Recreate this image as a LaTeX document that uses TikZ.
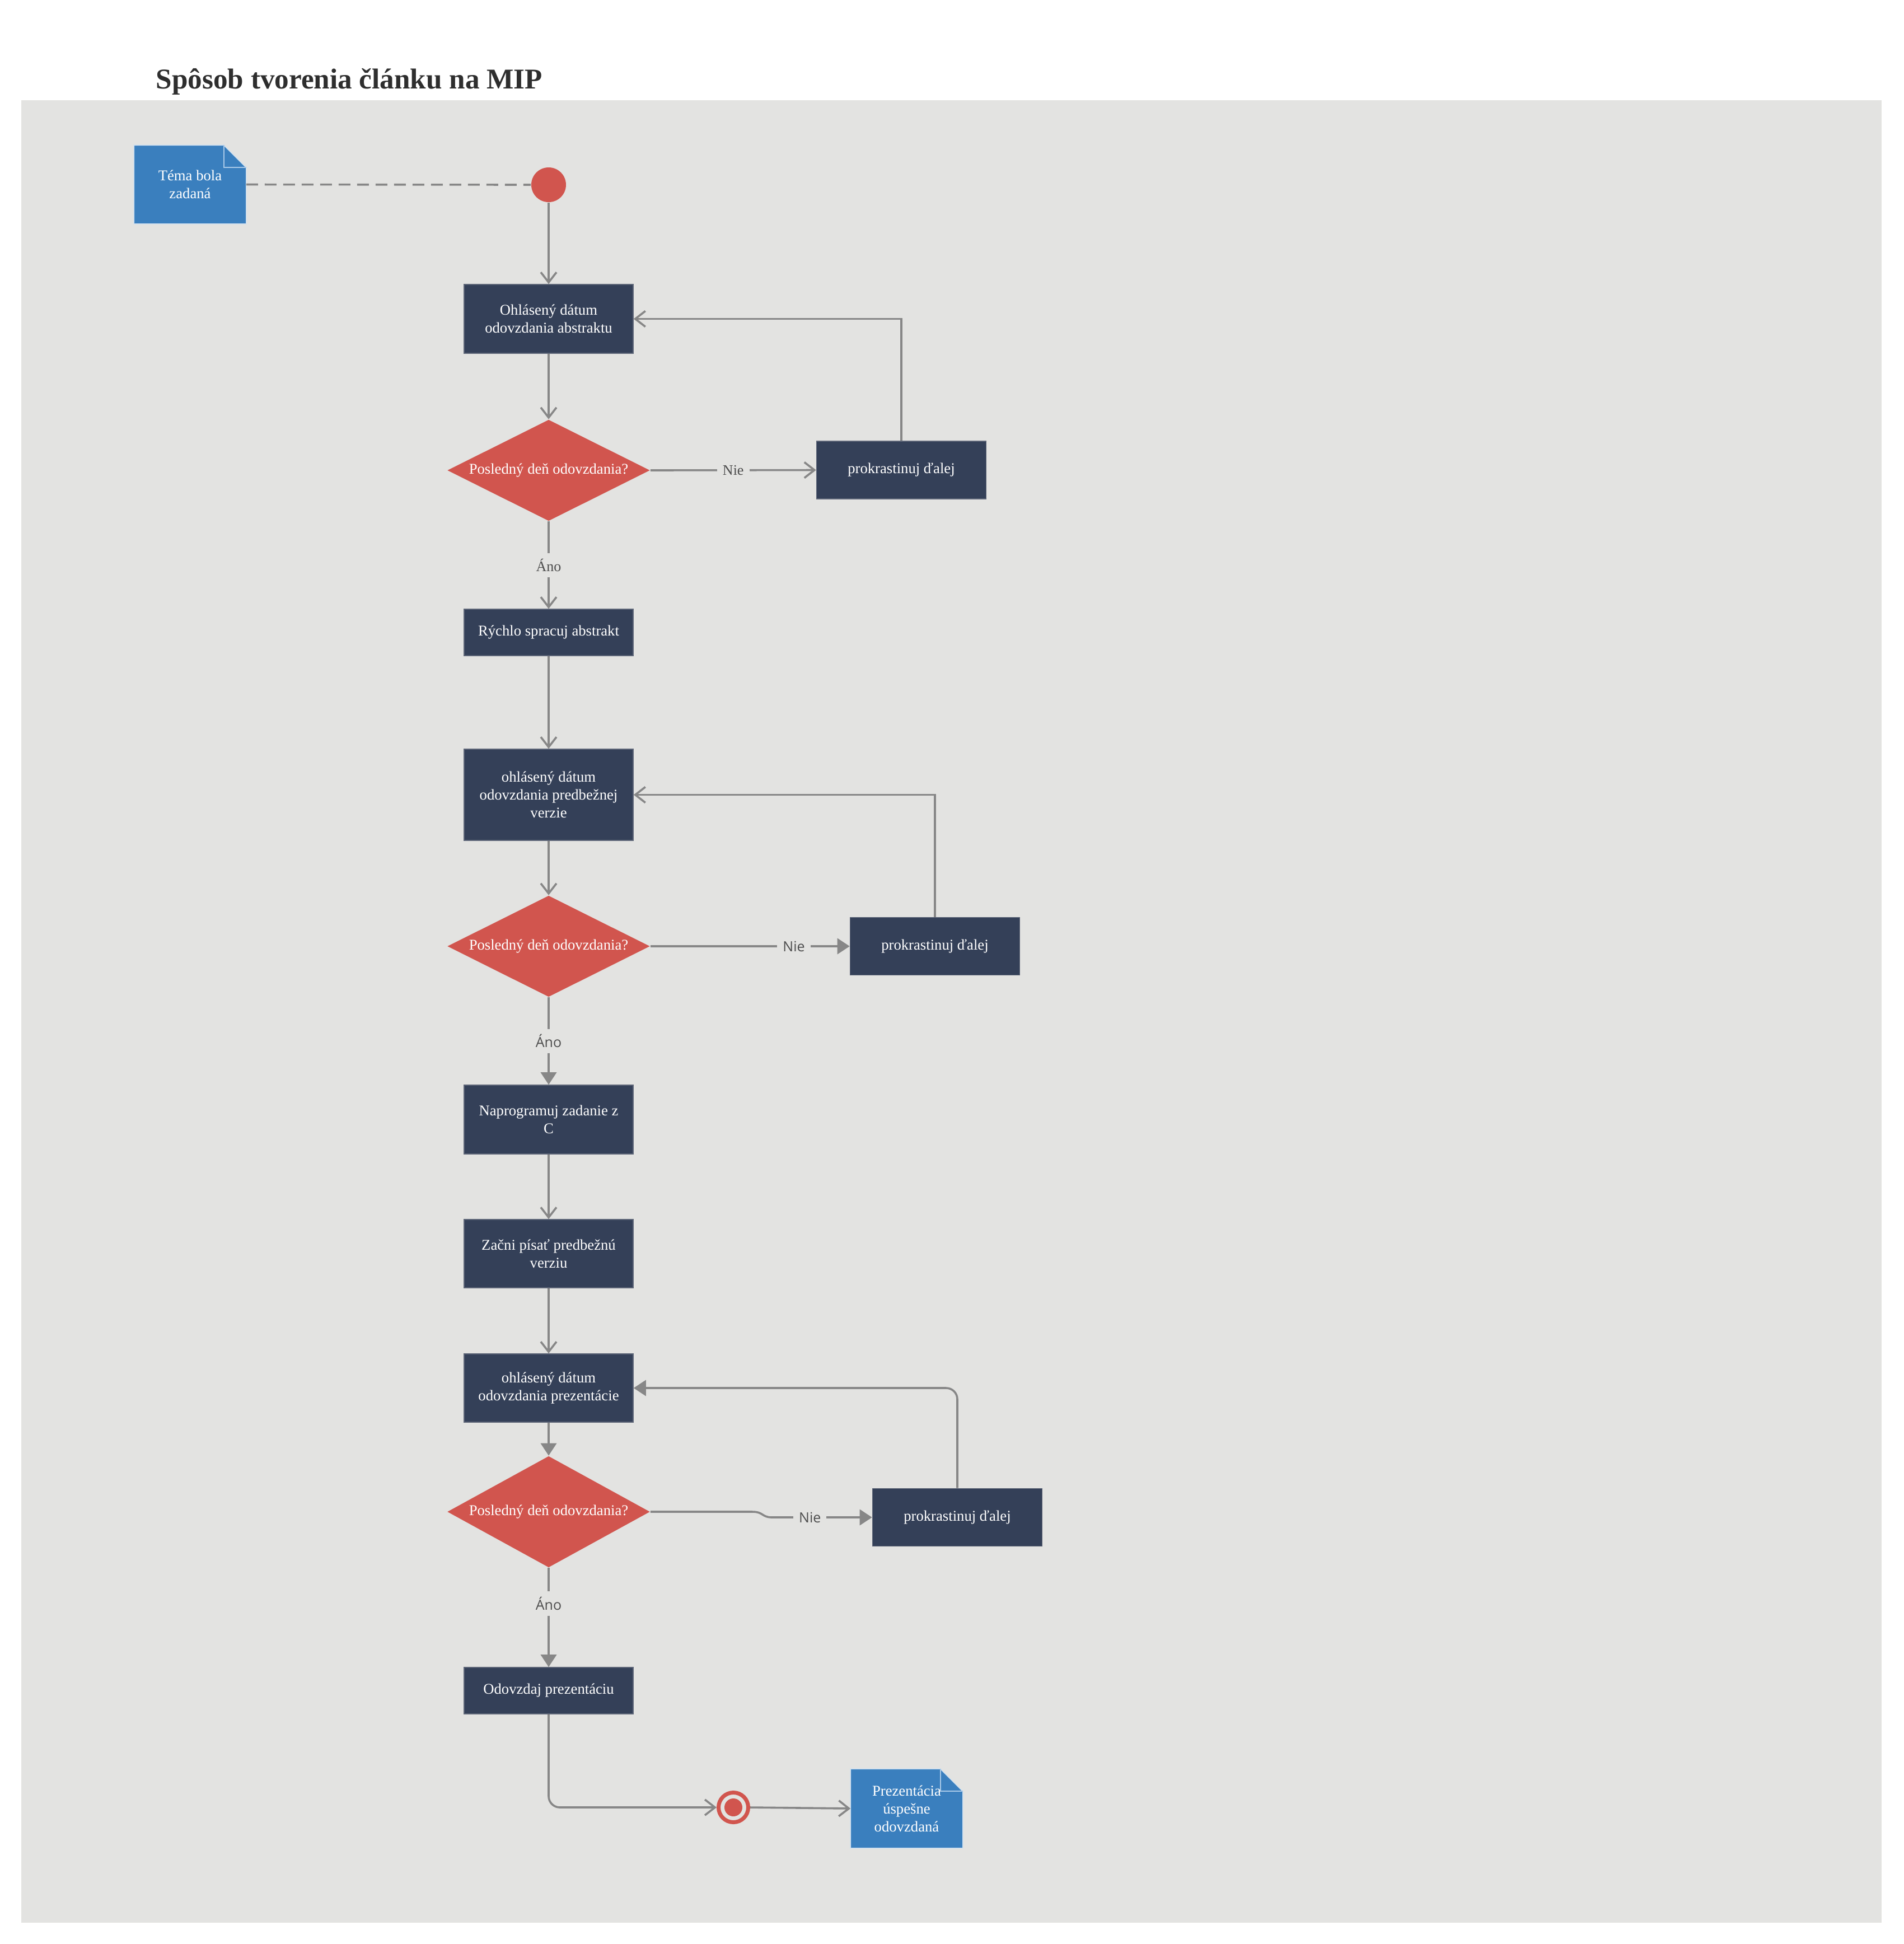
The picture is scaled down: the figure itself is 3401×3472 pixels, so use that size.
\documentclass[tikz,border=0pt]{standalone}
\usepackage{fontspec}
\setmainfont{Liberation Serif}
\newfontfamily\labsans{Open Sans}
\usetikzlibrary{arrows.meta,shapes.geometric,calc}
\pgfdeclarelayer{bglayer}
\pgfdeclarelayer{notelayer}
\pgfsetlayers{bglayer,notelayer,main}
\definecolor{canvas}{HTML}{E3E3E1}
\definecolor{navy}{HTML}{344058}
\definecolor{boxedge}{HTML}{5E6678}
\definecolor{dred}{HTML}{D1554E}
\definecolor{nblue}{HTML}{3A7FBE}
\definecolor{nedge}{HTML}{CFE0F0}
\definecolor{nfold}{HTML}{A9C9E8}
\definecolor{lineg}{HTML}{878787}
\definecolor{labg}{HTML}{4D4D4D}
\definecolor{titleg}{HTML}{2E2E2E}
\newcommand\boxfont{\fontsize{6.67}{8}\selectfont}
\newcommand\serlab{\fontsize{6.5}{8}\selectfont}
\newcommand\sanslab{\labsans\fontsize{6.25}{8}\selectfont}
\begin{document}
\begin{tikzpicture}[x=0.25pt,y=-0.25pt,
  box/.style={rectangle, fill=navy, draw=boxedge, line width=0.4pt, text=white,
    align=center, inner sep=0pt, minimum width=75.5pt, font=\boxfont},
  prok/.style={box, minimum width=75.75pt, minimum height=25.75pt},
  dia/.style={diamond, fill=dred, inner sep=0pt, minimum width=90.5pt, minimum height=45.25pt},
  notebox/.style={rectangle, inner sep=0pt, minimum width=49.75pt, minimum height=34.75pt,
    text=white, align=center, font=\boxfont},
  conn/.style={draw=lineg, line width=0.9pt},
  openarr/.style={conn, -{Straight Barb[length=4.5pt,width=7pt,line width=0.9pt]}},
  fillarr/.style={conn, -{Triangle[length=5.5pt,width=7pt]}},
  lab/.style={fill=canvas, text=labg, inner sep=2.5pt, font=\serlab},
  slab/.style={fill=canvas, text=labg, inner sep=2.5pt, font=\sanslab},
  dtext/.style={label={[text=white,font=\boxfont]center:Posledný deň odovzdania?}}
]
\useasboundingbox (0,0) rectangle (3401,3472);
\begin{pgfonlayer}{bglayer}
\fill[white] (0,0) rectangle (3401,3472);
\fill[canvas] (38,179) rectangle (3361,3434);
\end{pgfonlayer}

\node[anchor=base west, inner sep=0pt, text=titleg, font=\bfseries\fontsize{12.8}{15}\selectfont] (title) at (278,158) {Spôsob tvorenia článku na MIP};

% nodes
\node[notebox] (n1) at (339.5,329.5) {Téma bola\\zadaná};
\node[circle, fill=dred, inner sep=0pt, minimum size=15.5pt] (start) at (980,330) {};
\node[box, minimum height=30.75pt] (b1) at (980,569.5) {Ohlásený dátum\\odovzdania abstraktu};
\node[dia, dtext] (d1) at (980,840) {};
\node[prok] (p1) at (1610,839.5) {prokrastinuj ďalej};
\node[box, minimum height=20.75pt] (b2) at (980,1129.5) {Rýchlo spracuj abstrakt};
\node[box, minimum height=40.75pt] (b3) at (980,1419.5) {ohlásený dátum\\odovzdania predbežnej\\verzie};
\node[dia, dtext] (d2) at (980,1690) {};
\node[prok] (p2) at (1670,1690) {prokrastinuj ďalej};
\node[box, minimum height=30.75pt] (b4) at (980,1999.5) {Naprogramuj zadanie z\\C};
\node[box, minimum height=30.5pt] (b5) at (980,2239) {Začni písať predbežnú\\verziu};
\node[box, minimum height=30.5pt] (b6) at (980,2479) {ohlásený dátum\\odovzdania prezentácie};
\node[dia, dtext, minimum height=49.75pt] (d3) at (980,2700) {};
\node[prok] (p3) at (1710,2710) {prokrastinuj ďalej};
\node[box, minimum height=20.75pt] (b7) at (980,3019.5) {Odovzdaj prezentáciu};
\node[circle, draw=dred, line width=1.75pt, fill=canvas, inner sep=0pt, minimum size=13.25pt,
  path picture={\fill[dred] (path picture bounding box.center) circle[radius=4pt];}] (end) at (1310,3228) {};
\node[notebox, minimum height=35pt] (n2) at (1619.5,3230) {Prezentácia\\úspešne\\odovzdaná};

% note shapes
\begin{pgfonlayer}{notelayer}
\foreach \n in {n1,n2} {
  \filldraw[fill=nblue, draw=nedge, line width=0.4pt] (\n.north west) -- ($(\n.north east)+(-40,0)$)
    -- ($(\n.north east)+(0,40)$) -- (\n.south east) -- (\n.south west) -- cycle;
  \draw[nfold, line width=0.6pt] ($(\n.north east)+(-40,0)$) -- ($(\n.north east)+(-40,40)$)
    -- ($(\n.north east)+(0,40)$);
}
\end{pgfonlayer}

% connectors
\draw[conn, dash pattern=on 5.25pt off 3pt] (n1.east) -- (start.west);
\draw[openarr] (start) -- (b1);
\draw[openarr] (b1) -- (d1);
\draw[openarr] (d1.east) -- node[lab]{Nie} (p1.west);
\draw[openarr] (p1.north) |- (b1.east);
\draw[openarr] (d1.south) -- node[lab]{Áno} (b2.north);
\draw[openarr] (b2) -- (b3);
\draw[openarr] (b3) -- (d2);
\draw[fillarr] (d2.east) -- node[slab, pos=0.72]{Nie} (p2.west);
\draw[openarr] (p2.north) |- (b3.east);
\draw[fillarr] (d2.south) -- node[slab]{Áno} (b4.north);
\draw[openarr] (b4) -- (b5);
\draw[openarr] (b5) -- (b6);
\draw[fillarr] (b6) -- (d3);
\draw[fillarr] (d3.east) -- ++(182,0) .. controls +(20,0) and +(-18,0) .. ++(35,10)
  -- node[slab, pos=0.38]{Nie} (p3.west);
\draw[fillarr, rounded corners=5pt] (p3.north) |- (b6.east);
\draw[fillarr] (d3.south) -- node[slab, pos=0.36]{Áno} (b7.north);
\draw[openarr, rounded corners=5pt] (b7.south) |- (end.west);
\draw[openarr] (end.east) -- (n2.west);
\end{tikzpicture}
\end{document}
